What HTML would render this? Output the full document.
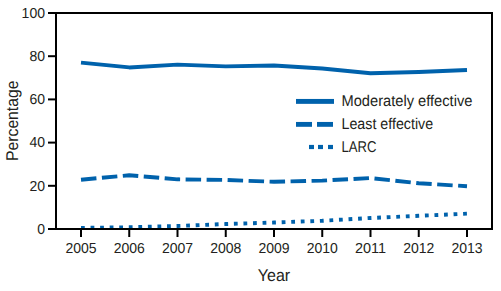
<!DOCTYPE html>
<html><head><meta charset="utf-8"><style>
html,body{margin:0;padding:0;background:#fff;}
svg{display:block;}
text{text-rendering:geometricPrecision;font-family:"Liberation Sans",sans-serif;fill:#231f20;}
</style></head><body>
<svg width="501" height="291" viewBox="0 0 501 291">
<g fill="none" stroke="#0062ac" stroke-width="3.9" stroke-linejoin="round">
<polyline points="81.00,227.92 129.25,227.27 177.50,225.98 225.75,224.03 274.00,222.52 322.25,220.79 370.50,217.98 418.75,215.82 467.00,213.66" stroke-dasharray="3.8 5.76"/>
<polyline points="81.00,179.75 129.25,175.22 177.50,179.32 225.75,179.97 274.00,181.80 322.25,180.62 370.50,178.02 418.75,183.21 467.00,186.23" stroke-dasharray="15.5 5.5"/>
<polyline points="81.00,62.68 129.25,67.43 177.50,64.62 225.75,66.35 274.00,65.49 322.25,68.51 370.50,73.26 418.75,71.97 467.00,70.02"/>
</g>
<g stroke="#000" stroke-width="2" fill="none">
<rect x="56" y="13" width="436" height="216"/>
<line x1="48" y1="229.00" x2="56" y2="229.00"/><line x1="48" y1="185.80" x2="56" y2="185.80"/><line x1="48" y1="142.60" x2="56" y2="142.60"/><line x1="48" y1="99.40" x2="56" y2="99.40"/><line x1="48" y1="56.20" x2="56" y2="56.20"/><line x1="48" y1="13.00" x2="56" y2="13.00"/>
<line x1="81.00" y1="229" x2="81.00" y2="237"/><line x1="129.25" y1="229" x2="129.25" y2="237"/><line x1="177.50" y1="229" x2="177.50" y2="237"/><line x1="225.75" y1="229" x2="225.75" y2="237"/><line x1="274.00" y1="229" x2="274.00" y2="237"/><line x1="322.25" y1="229" x2="322.25" y2="237"/><line x1="370.50" y1="229" x2="370.50" y2="237"/><line x1="418.75" y1="229" x2="418.75" y2="237"/><line x1="467.00" y1="229" x2="467.00" y2="237"/>
</g>
<text x="45.00" y="233.80" font-size="14.5" text-anchor="end" textLength="7.80" lengthAdjust="spacingAndGlyphs">0</text><text x="45.00" y="190.60" font-size="14.5" text-anchor="end" textLength="15.60" lengthAdjust="spacingAndGlyphs">20</text><text x="45.00" y="147.40" font-size="14.5" text-anchor="end" textLength="15.60" lengthAdjust="spacingAndGlyphs">40</text><text x="45.00" y="104.20" font-size="14.5" text-anchor="end" textLength="15.60" lengthAdjust="spacingAndGlyphs">60</text><text x="45.00" y="61.00" font-size="14.5" text-anchor="end" textLength="15.60" lengthAdjust="spacingAndGlyphs">80</text><text x="45.00" y="17.80" font-size="14.5" text-anchor="end" textLength="23.40" lengthAdjust="spacingAndGlyphs">100</text>
<text x="81.00" y="252.50" font-size="14.5" text-anchor="middle" textLength="31.20" lengthAdjust="spacingAndGlyphs">2005</text><text x="129.25" y="252.50" font-size="14.5" text-anchor="middle" textLength="31.20" lengthAdjust="spacingAndGlyphs">2006</text><text x="177.50" y="252.50" font-size="14.5" text-anchor="middle" textLength="31.20" lengthAdjust="spacingAndGlyphs">2007</text><text x="225.75" y="252.50" font-size="14.5" text-anchor="middle" textLength="31.20" lengthAdjust="spacingAndGlyphs">2008</text><text x="274.00" y="252.50" font-size="14.5" text-anchor="middle" textLength="31.20" lengthAdjust="spacingAndGlyphs">2009</text><text x="322.25" y="252.50" font-size="14.5" text-anchor="middle" textLength="31.20" lengthAdjust="spacingAndGlyphs">2010</text><text x="370.50" y="252.50" font-size="14.5" text-anchor="middle" textLength="31.20" lengthAdjust="spacingAndGlyphs">2011</text><text x="418.75" y="252.50" font-size="14.5" text-anchor="middle" textLength="31.20" lengthAdjust="spacingAndGlyphs">2012</text><text x="467.00" y="252.50" font-size="14.5" text-anchor="middle" textLength="31.20" lengthAdjust="spacingAndGlyphs">2013</text>
<g fill="#0062ac">
<rect x="296" y="98.95" width="38" height="4.9"/>
<rect x="296" y="121.95" width="16" height="4.85"/>
<rect x="317" y="121.95" width="16" height="4.85"/>
<rect x="309" y="144.9" width="5" height="4.2"/>
<rect x="318" y="144.9" width="5" height="4.2"/>
<rect x="328" y="144.9" width="5" height="4.2"/>
</g>
<text x="341.50" y="105.90" font-size="15.6" textLength="130.90" lengthAdjust="spacingAndGlyphs">Moderately effective</text><text x="341.50" y="128.80" font-size="15.6" textLength="91.60" lengthAdjust="spacingAndGlyphs">Least effective</text><text x="341.50" y="151.90" font-size="15.6" textLength="34.90" lengthAdjust="spacingAndGlyphs">LARC</text>
<text x="274.00" y="280.90" font-size="17" text-anchor="middle" textLength="32.40" lengthAdjust="spacingAndGlyphs">Year</text>
<text transform="translate(18.4,160.9) rotate(-90)" x="0" y="0" font-size="17" textLength="80.3" lengthAdjust="spacingAndGlyphs">Percentage</text>
</svg>
</body></html>
